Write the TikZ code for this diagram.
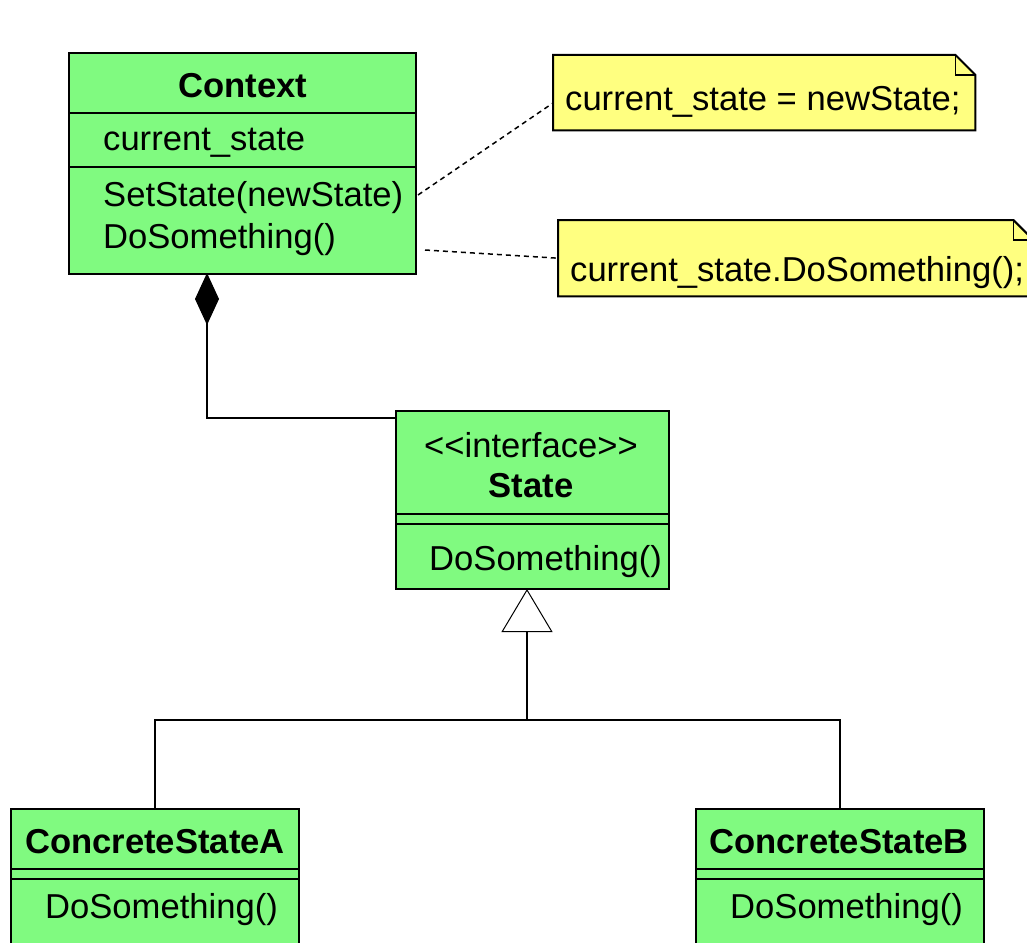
\documentclass[tikz,border=0pt]{standalone}
\usepackage{fontspec}
\setmainfont{Liberation Sans}[Ligatures=TeXOff]
\usetikzlibrary{arrows.meta}
\definecolor{umlgreen}{RGB}{128,250,128}
\definecolor{noteyellow}{RGB}{255,255,128}
\begin{document}
\begin{tikzpicture}[x=1pt,y=-1pt,
  cls/.style={draw=black,line width=2pt,fill=umlgreen,rectangle,inner sep=0pt,anchor=north west},
  notebox/.style={rectangle,inner sep=0pt,anchor=north west},
  noteline/.style={draw=black,line width=2pt,fill=noteyellow,line join=miter},
  txt/.style={inner sep=0pt,font=\fontsize{34.6}{40}\selectfont},
  btxt/.style={inner sep=0pt,font=\fontsize{34.6}{40}\selectfont\bfseries},
  divider/.style={draw=black,line width=2pt},
  conn/.style={draw=black,line width=2pt},
  dashline/.style={draw=black,line width=1.5pt,dash pattern=on 5pt off 4pt}]
\useasboundingbox (0,0) rectangle (1027,942);
\clip (0,0) rectangle (1027,942);

% Context
\node[cls,minimum width=347pt,minimum height=221pt] (ctx) at (68,52) {};
\draw[divider] (68,113) -- (415,113);
\draw[divider] (68,167) -- (415,167);
\node[btxt,anchor=base] (ctxt) at (243,97) {Context};
\node[txt,anchor=base west] (ctxa) at (103,150) {current\_state};
\node[txt,anchor=base west] (ctxm1) at (103,206) {SetState(newState)};
\node[txt,anchor=base west] (ctxm2) at (103,248) {DoSomething()};

% Notes
\node[notebox,minimum width=422pt,minimum height=75pt] (n1) at (553,55) {};
\draw[noteline] (n1.north west) -- ([xshift=-20pt]n1.north east) -- ([yshift=-20pt]n1.north east) -- (n1.south east) -- (n1.south west) -- cycle;
\draw[line width=1.5pt] ([xshift=-20pt]n1.north east) -- ([xshift=-20pt,yshift=-20pt]n1.north east) -- ([yshift=-20pt]n1.north east);
\node[txt,anchor=base west] (n1t) at (565,110) {current\_state = newState;};

\node[notebox,minimum width=475pt,minimum height=76pt] (n2) at (558,220) {};
\draw[noteline] (n2.north west) -- ([xshift=-20pt]n2.north east) -- ([yshift=-20pt]n2.north east) -- (n2.south east) -- (n2.south west) -- cycle;
\draw[line width=1.5pt] ([xshift=-20pt]n2.north east) -- ([xshift=-20pt,yshift=-20pt]n2.north east) -- ([yshift=-20pt]n2.north east);
\node[txt,anchor=base west] (n2t) at (570,281) {current\_state.DoSomething();};

% note connectors
\coordinate (d1) at (418,195);
\coordinate (d1e) at (553,103);
\draw[dashline] (d1) -- (d1e);
\coordinate (d2) at (425,250);
\draw[dashline] (d2) -- (n2.west);

% State
\node[cls,minimum width=273pt,minimum height=178pt] (st) at (395,410) {};
\draw[divider] (395,514) -- (668,514);
\draw[divider] (395,524) -- (668,524);
\node[txt,anchor=base] (stst) at (531,457) {<<interface>>};
\node[btxt,anchor=base] (stt) at (531,497) {State};
\node[txt,anchor=base west] (stm) at (429,570) {DoSomething()};

% composition
\coordinate (cd) at (207,273);
\coordinate (sj) at (395,418);
\draw[conn,-{Diamond[length=52pt,width=24pt,fill=black,line width=1pt]}] (sj) -| (cd);

% ConcreteStateA
\node[cls,minimum width=288pt,minimum height=160pt] (csa) at (10,808) {};
\draw[divider] (10,869) -- (298,869);
\draw[divider] (10,879) -- (298,879);
\node[btxt,anchor=base] (csat) at (155,853) {ConcreteStateA};
\node[txt,anchor=base west] (csam) at (45,918) {DoSomething()};

% ConcreteStateB
\node[cls,minimum width=288pt,minimum height=160pt] (csb) at (695,808) {};
\draw[divider] (695,869) -- (983,869);
\draw[divider] (695,879) -- (983,879);
\node[btxt,anchor=base] (csbt) at (839,853) {ConcreteStateB};
\node[txt,anchor=base west] (csbm) at (730,918) {DoSomething()};

% inheritance
\coordinate (jm) at (527,720);
\coordinate (ta) at (527,589);
\draw[conn] (csa.north) |- (jm) -| (csb.north);
\draw[conn,-{Triangle[open,length=43pt,width=51pt,fill=white,line width=1pt]}] (jm) -- (ta);
\end{tikzpicture}
\end{document}
